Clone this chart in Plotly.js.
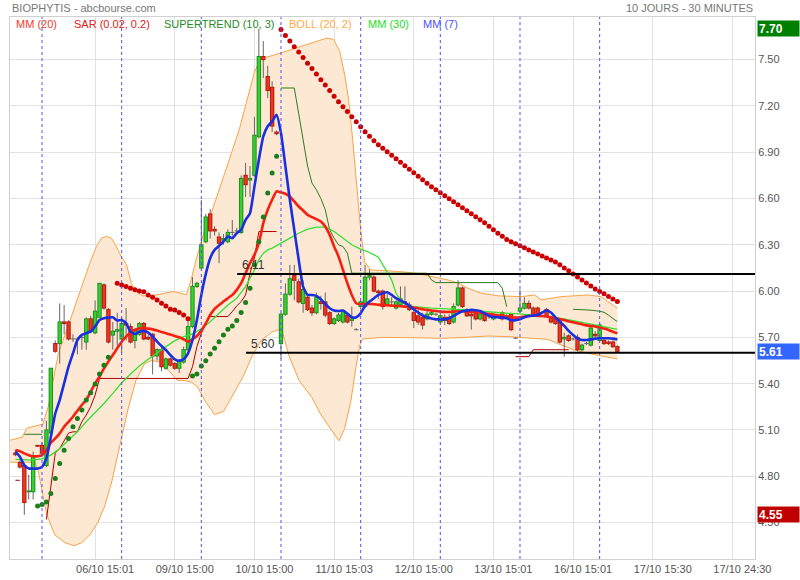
<!DOCTYPE html>
<html><head><meta charset="utf-8">
<script src="https://cdn.plot.ly/plotly-3.0.1.min.js"></script>
<style>body{margin:0;background:#fff}#chart{width:800px;height:580px}</style>
</head><body><div id="chart"></div>
<script>
// ---------- DATA (bar index: 18 half-hour bars per trading day) ----------
const firstBar = 12;
const opens = [4.95,4.89,4.87,4.70,4.70,5.00,
 5.00,4.87,5.08,5.66,5.66,5.80,5.80,5.69,5.69,5.70,5.67,5.82,5.73,5.83,6.04,5.88,5.715,5.74,
 5.69,5.79,5.77,5.68,5.72,5.79,5.70,5.72,5.58,5.62,5.50,5.56,5.53,5.50,5.54,5.62,5.77,6.03,
 6.15,6.32,6.50,6.40,6.35,6.33,6.32,6.38,6.39,6.38,6.75,6.72,6.75,7.00,7.52,7.39,7.32,7.03,
 5.66,5.85,5.98,6.10,6.06,5.92,5.96,5.89,5.86,5.93,5.93,5.86,5.79,5.81,5.80,5.845,5.81,5.75,
 5.90,5.90,6.09,6.09,6.00,6.00,5.91,5.93,5.89,5.91,5.93,5.91,5.86,5.84,5.83,5.82,5.85,5.85,
 5.80,5.83,5.83,5.80,5.91,6.02,5.88,5.85,5.86,5.82,5.85,5.84,5.82,5.84,5.86,5.83,5.85,5.695,
 5.87,5.89,5.92,5.89,5.89,5.86,5.88,5.83,5.82,5.80,5.69,5.71,5.69,5.70,5.62,5.66,5.65,5.72,
 5.68,5.68,5.67,5.67,5.64];
const highs = [4.97,4.90,4.88,4.81,4.96,5.00,
 5.02,5.16,5.50,5.68,5.92,5.91,5.81,5.72,5.70,5.72,5.83,5.84,5.94,6.05,6.05,5.89,5.80,5.86,
 5.83,5.89,5.79,5.76,5.80,5.80,5.72,5.73,5.63,5.65,5.57,5.57,5.54,5.56,5.64,5.82,6.09,6.06,
 6.59,6.50,6.53,6.42,6.38,6.37,6.40,6.46,6.41,6.75,6.83,6.81,7.13,7.70,7.62,7.46,7.36,7.04,
 5.86,6.05,6.17,6.17,6.08,6.07,5.97,5.91,5.99,5.97,5.99,5.87,5.83,5.86,5.88,5.86,5.90,5.76,
 5.94,6.17,6.14,6.11,6.01,6.01,5.98,5.96,5.94,6.03,6.03,5.93,5.88,5.88,5.86,5.87,5.88,5.86,
 5.86,5.85,5.85,5.92,6.07,6.03,5.89,5.88,5.88,5.87,5.86,5.86,5.85,5.85,5.87,5.85,5.86,5.70,
 6.01,5.96,5.94,5.90,5.90,5.87,5.89,5.84,5.83,5.82,5.73,5.72,5.70,5.72,5.66,5.67,5.77,5.74,
 5.79,5.69,5.68,5.68,5.65];
const lows = [4.93,4.85,4.55,4.65,4.65,4.99,
 4.94,4.86,5.07,5.60,5.53,5.72,5.68,5.67,5.59,5.62,5.62,5.73,5.72,5.83,5.88,5.66,5.62,5.62,
 5.60,5.68,5.66,5.63,5.71,5.68,5.68,5.46,5.55,5.48,5.49,5.51,5.49,5.47,5.53,5.61,5.76,6.02,
 6.14,6.31,6.34,6.36,6.18,6.30,6.31,6.36,6.37,6.37,6.61,6.61,6.74,6.99,7.38,7.25,7.03,7.01,
 5.56,5.84,5.97,5.94,5.92,5.86,5.87,5.84,5.85,5.88,5.83,5.78,5.78,5.80,5.79,5.79,5.77,5.745,
 5.88,5.89,6.07,5.99,5.95,5.88,5.90,5.90,5.88,5.90,5.90,5.87,5.76,5.78,5.75,5.81,5.84,5.84,
 5.79,5.78,5.78,5.79,5.90,5.89,5.83,5.75,5.81,5.81,5.80,5.82,5.81,5.83,5.81,5.82,5.74,5.69,
 5.86,5.88,5.88,5.84,5.84,5.85,5.83,5.79,5.78,5.66,5.575,5.67,5.68,5.61,5.61,5.65,5.64,5.70,
 5.67,5.65,5.65,5.63,5.60];
const closes = [4.94,4.86,4.63,4.705,4.93,4.995,
 4.95,5.10,5.50,5.61,5.80,5.79,5.69,5.69,5.69,5.70,5.82,5.74,5.87,6.05,5.89,5.67,5.74,5.75,
 5.79,5.78,5.67,5.75,5.79,5.69,5.69,5.58,5.62,5.51,5.56,5.52,5.50,5.55,5.62,5.77,6.03,6.05,
 6.30,6.48,6.39,6.39,6.31,6.34,6.38,6.38,6.39,6.73,6.69,6.73,7.01,7.52,7.50,7.30,7.07,7.02,
 5.85,5.98,6.08,6.07,5.93,6.01,5.88,5.86,5.96,5.92,5.845,5.79,5.82,5.845,5.87,5.80,5.82,5.75,
 5.93,6.09,6.10,6.00,5.99,5.90,5.95,5.93,5.93,5.95,5.92,5.88,5.81,5.80,5.78,5.85,5.86,5.85,
 5.84,5.81,5.79,5.90,6.02,5.90,5.84,5.84,5.82,5.85,5.81,5.84,5.84,5.84,5.82,5.84,5.75,5.695,
 5.89,5.92,5.89,5.85,5.85,5.86,5.84,5.80,5.79,5.67,5.70,5.68,5.69,5.62,5.65,5.66,5.76,5.71,
 5.78,5.66,5.66,5.64,5.61];

// MM (7) and MM (20), one value per bar from firstBar
const mm7 = [4.959,4.926,4.872,4.850,4.850,4.850,
 4.861,4.915,5.056,5.207,5.294,5.402,5.510,5.597,5.683,5.716,5.727,5.737,5.770,5.813,5.824,5.828,5.830,5.809,
 5.813,5.792,5.737,5.722,5.737,5.742,5.731,5.705,5.673,5.644,5.618,5.586,5.558,5.549,5.558,5.597,5.683,5.813,
 5.975,6.110,6.213,6.267,6.293,6.321,6.354,6.343,6.375,6.397,6.462,6.505,6.678,6.851,7.003,7.068,7.100,7.143,
 7.024,6.808,6.592,6.397,6.202,6.029,5.975,5.975,5.969,5.947,5.917,5.889,5.874,5.871,5.874,5.854,5.830,5.830,
 5.856,5.904,5.932,5.954,5.975,5.986,5.992,5.975,5.954,5.938,5.925,5.904,5.882,5.861,5.843,5.830,5.822,5.817,
 5.817,5.817,5.824,5.839,5.856,5.869,5.874,5.878,5.876,5.871,5.856,5.839,5.832,5.830,5.828,5.824,5.811,5.811,
 5.817,5.830,5.839,5.841,5.845,5.861,5.874,5.861,5.830,5.802,5.774,5.742,5.716,5.694,5.683,5.683,5.687,5.692,
 5.694,5.694,5.694,5.692,5.687];
const mm20 = [4.970,4.963,4.948,4.937,4.930,4.930,
 4.937,4.970,5.017,5.045,5.078,5.121,5.153,5.186,5.225,5.262,5.294,5.348,5.402,5.445,5.499,5.543,5.586,5.629,
 5.672,5.705,5.731,5.748,5.757,5.759,5.757,5.752,5.744,5.735,5.727,5.718,5.709,5.701,5.688,5.672,5.688,5.709,
 5.745,5.790,5.845,5.885,5.910,5.932,5.954,5.975,6.008,6.051,6.116,6.181,6.235,6.310,6.440,6.527,6.592,6.646,
 6.639,6.631,6.613,6.581,6.548,6.522,6.494,6.479,6.466,6.451,6.419,6.364,6.289,6.224,6.137,6.051,5.975,5.921,
 5.915,5.917,5.917,5.915,5.912,5.910,5.908,5.906,5.904,5.902,5.899,5.897,5.893,5.889,5.882,5.878,5.874,5.871,
 5.867,5.865,5.865,5.867,5.869,5.869,5.867,5.865,5.863,5.861,5.856,5.852,5.848,5.843,5.839,5.835,5.830,5.828,
 5.830,5.835,5.839,5.841,5.839,5.839,5.835,5.830,5.824,5.817,5.813,5.804,5.798,5.791,5.785,5.778,5.774,5.770,
 5.763,5.757,5.748,5.737,5.726];

// MM (30), read at selected bars
const mm30Bars = [12,14,16,18,20,22,24,26,28,30,32,34,36,38,40,42,44,46,48,50,52,54,56,58,60,62,64,66,67,68,69,70,71,72,74,76,78,80,82,84,86,88,90,92,94,96,97,98,99,100,102,106,110,114,118,122,126,130,134,138,142,146,148];
const mm30Vals = [4.909,4.905,4.905,4.913,4.937,4.980,5.034,5.088,5.153,5.212,5.272,5.337,5.406,5.463,5.514,5.558,5.601,5.640,5.679,5.705,5.722,5.755,5.802,5.856,5.910,5.954,6.029,6.137,6.202,6.246,6.267,6.278,6.293,6.310,6.343,6.375,6.401,6.414,6.414,6.386,6.343,6.300,6.272,6.250,6.220,6.127,6.073,5.986,5.943,5.917,5.899,5.889,5.884,5.878,5.869,5.858,5.852,5.843,5.830,5.809,5.787,5.765,5.752];

// BOLL (20, 2) bands, read at selected bar positions
const bollUpBars = [10.8,13.5,14.6,17.5,18.2,19.4,20.6,21.7,23.6,25.4,27.3,28.8,30.3,31.4,32.6,33.7,34.8,35.9,37.1,38.2,39.3,40.8,43.8,47.6,49.4,50.6,51.7,52.8,53.9,55.1,56.3,58,60.3,62.6,64.4,66,67.5,69.3,71.6,73.8,76,78.3,80.6,82.4,83.9,85.3,86.4,87.3,88.2,89.1,90,90.9,92.3,94.8,98.6,102.3,106.1,109.8,112.1,114.3,117.3,121.1,126.3,129.3,130.8,135.3,141.3,144.3,147.3,148];
const bollUpVals = [5.034,5.053,5.112,5.131,5.138,5.251,5.445,5.597,5.748,5.900,6.051,6.181,6.289,6.343,6.354,6.343,6.289,6.224,6.170,6.051,5.997,5.969,5.975,5.997,5.986,5.975,6.073,6.202,6.310,6.43,6.51,6.66,6.85,7.05,7.24,7.42,7.51,7.52,7.54,7.56,7.58,7.60,7.62,7.64,7.63,7.55,7.40,7.24,6.98,6.69,6.40,6.19,6.137,6.133,6.127,6.116,6.094,6.072,6.051,6.018,5.986,5.969,5.964,5.975,5.943,5.964,5.975,5.964,5.904,5.89];
const bollLoBars = [10.8,16.4,17.1,18,19.1,20.9,23.2,25.2,27,28.8,30.6,32.2,33.8,35.6,37.4,39.2,41.2,42.8,44.6,46.8,48.6,50.2,51.8,53.1,55,57,59,61,63.5,65.5,67.5,70,71.6,72.5,73.8,76.1,79,81,83.3,85.1,86.4,87.8,88.9,89.8,90.5,94.8,102.3,108.3,113.6,118.8,123.3,127.8,132.3,135.3,138.3,141.3,144.3,147.3,148];
const bollLoVals = [4.891,4.891,4.84,4.71,4.55,4.42,4.37,4.35,4.37,4.42,4.50,4.61,4.77,5.00,5.23,5.42,5.53,5.55,5.54,5.48,5.42,5.42,5.41,5.38,5.28,5.20,5.22,5.32,5.45,5.58,5.68,5.735,5.75,5.72,5.58,5.42,5.31,5.20,5.10,5.03,5.11,5.29,5.50,5.65,5.69,5.70,5.698,5.694,5.70,5.709,5.705,5.698,5.687,5.651,5.618,5.597,5.579,5.564,5.56];

// SAR (0.02, 0.2): runs of dots, each with first bar and values
const sarGreen1Start = 17;
const sarGreen1 = [4.608,4.617,4.634,4.688,4.786,4.883,4.969,5.045,5.121,5.175,5.229,5.294,5.342,5.398,5.463,5.519,5.571];
const sarRed1Start = 35;
const sarRed1 = [6.051,6.040,6.029,6.019,6.008,6.001,5.995,5.975,5.960,5.943,5.921,5.904,5.882,5.878,5.861,5.845,5.820];
const sarGreen2Start = 52;
const sarGreen2 = [5.450,5.463,5.515,5.549,5.592,5.629,5.672,5.716,5.752,5.774,5.809,5.861,5.926,6.019,6.170,6.320,6.480,6.635,6.765,6.873];
const sarRed2Start = 72;
const sarRed2 = [7.695,7.656,7.620,7.584,7.549,7.513,7.477,7.442,7.406,7.370,7.335,7.299,7.263,7.227,7.195,7.163,7.130,7.098,7.065,7.033,7.004,6.974,6.948,6.926,6.903,6.880,6.858,6.835,6.812,6.789,6.767,6.744,6.721,6.699,6.676,6.656,6.637,6.617,6.598,6.579,6.559,6.540,6.520,6.501,6.481,6.462,6.442,6.420,6.397,6.374,6.355,6.335,6.319,6.306,6.293,6.280,6.267,6.254,6.241,6.228,6.215,6.202,6.189,6.170,6.150,6.131,6.111,6.092,6.072,6.053,6.033,6.014,5.998,5.982,5.965,5.949,5.933];

// SUPERTREND (10, 3): runs, each with first bar and values
const stRed1Start = 12;
const stRed1 = [4.774,4.774];
const stGreen1Start = 14;
const stGreen1 = [5.072,5.072,5.072,5.072,5.072];
const stRed2Start = 19;
const stRed2 = [4.52,4.73,4.95,4.98,5.03,5.08,5.088,5.088,5.153,5.197,5.251,5.326,5.434,
 5.434,5.434,5.434,5.434,5.434,5.434,5.434,5.434,5.434,5.434,5.434,5.434,5.434,5.434,5.434,5.434,5.434,5.434,5.434,5.434,
 5.51,5.64,5.727,5.79,5.835,5.835,5.835,5.835,5.835,5.867,5.904,5.932,5.975,6.116,6.213,6.386,6.386,6.386,6.386,6.386];
const stGreen2Start = 72;
const stGreen2 = [7.316,7.316,7.316,7.316,7.15,6.99,6.81,6.70,6.656,6.60,6.527,6.397,6.343,6.30,6.289,6.246,6.116,
 6.116,6.116,6.116,6.116,6.116,6.116,6.116,6.116,6.116,6.116,6.116,6.116,6.116,6.116,6.116,6.116,6.116,
 6.072,6.055,6.055,6.055,6.055,6.055,6.055,6.055,6.055,6.055,6.055,6.055,6.055,6.055,6.055,6.055,6.018,5.899];
const stRed3Start = 125;
const stRed3 = [5.575,5.575,5.575,5.575,5.62,5.62,5.62,5.62,5.62,5.62,5.62,5.62,5.62];
const stGreen3Start = 138;
const stGreen3 = [5.882,5.882,5.880,5.878,5.876,5.874,5.870,5.862,5.845,5.822,5.802];

// Drawn support / resistance levels
const levelValues = [6.11, 5.60];
const levelLabels = ["6.11", "5.60"];
const levelStartBar = [62.1, 64.1];

// Axis ticks
const dayStartBars = [18,36,54,72,90,108,126,144];
const tickBars = [30,48,66,84,102,120,138,156,174];
const tickLabels = ["06/10 15:01","09/10 15:00","10/10 15:00","11/10 15:03","12/10 15:00","13/10 15:01","16/10 15:01","17/10 15:30","17/10 24:30"];
const priceTicks = [4.5,4.8,5.1,5.4,5.7,6.0,6.3,6.6,6.9,7.2,7.5];
const priceTickText = ["4.50","4.80","5.10","5.40","5.70","6.00","6.30","6.60","6.90","7.20","7.50"];

// ---------- BUILD ----------
const xMin = 10.77, xMax = 179.1;
const FONT = "Liberation Sans, Arial, sans-serif";
const xs = opens.map((_, i) => firstBar + i);
const run = (start, vals) => vals.map((_, i) => start + i);
const PX = (7.776 - 4.264) / 542; // price per pixel

const wickX = [], wickY = [];
xs.forEach((x, i) => { wickX.push(x, x, null); wickY.push(lows[i], highs[i], null); });

function bodySegments(test, pad) {
  const bx = [], by = [];
  xs.forEach((x, i) => {
    if (!test(opens[i], closes[i])) return;
    const lo = Math.min(opens[i], closes[i]), hi = Math.max(opens[i], closes[i]);
    bx.push(x, x, null); by.push(lo - pad, hi + pad, null);
  });
  return {bx, by};
}
const up = (o, c) => c > o, dn = (o, c) => c < o, flat = (o, c) => c === o;

const traces = [];
// Bollinger fill + edges
traces.push({type:"scatter", mode:"lines", x: bollUpBars.concat(bollLoBars.slice().reverse()),
  y: bollUpVals.concat(bollLoVals.slice().reverse()), fill:"toself", fillcolor:"#fde9d3",
  line:{width:0, color:"rgba(0,0,0,0)"}, hoverinfo:"skip"});
traces.push({type:"scatter", mode:"lines", x: bollUpBars, y: bollUpVals, line:{color:"#f7a347", width:1}});
traces.push({type:"scatter", mode:"lines", x: bollLoBars, y: bollLoVals, line:{color:"#f7a347", width:1}});
// Candles: wicks, then bodies (outline + fill)
traces.push({type:"scatter", mode:"lines", x: wickX, y: wickY, line:{color:"#666666", width:1}});
[[up, "#1f8f1f", "#38d030"], [dn, "#b01e10", "#ee3520"]].forEach(([t, edge, fillc]) => {
  const o = bodySegments(t, 0.55 * PX), f = bodySegments(t, -0.45 * PX);
  traces.push({type:"scatter", mode:"lines", x:o.bx, y:o.by, line:{color:edge, width:4.4}});
  traces.push({type:"scatter", mode:"lines", x:f.bx, y:f.by, line:{color:fillc, width:2.4}});
});
const fl = bodySegments(flat, 0.5 * PX);
traces.push({type:"scatter", mode:"lines", x:fl.bx, y:fl.by, line:{color:"#666666", width:4.4}});
// SuperTrend
[[stRed1Start, stRed1, "#b00000"], [stGreen1Start, stGreen1, "#2a7d1e"], [stRed2Start, stRed2, "#b00000"],
 [stGreen2Start, stGreen2, "#2a7d1e"], [stRed3Start, stRed3, "#b00000"], [stGreen3Start, stGreen3, "#2a7d1e"]]
 .forEach(([s, v, c]) => traces.push({type:"scatter", mode:"lines", x: run(s, v), y: v, line:{color:c, width:1}}));
// Moving averages
traces.push({type:"scatter", mode:"lines", x: mm30Bars, y: mm30Vals, line:{color:"#33e033", width:1.3}});
traces.push({type:"scatter", mode:"lines", x: xs, y: mm20, line:{color:"#f5200f", width:2.6, shape:"spline", smoothing:0.5}});
traces.push({type:"scatter", mode:"lines", x: xs, y: mm7, line:{color:"#1a2fe0", width:2.6, shape:"spline", smoothing:0.5}});
// SAR
[[sarGreen1Start, sarGreen1, "#1a7f1a"], [sarRed1Start, sarRed1, "#cc0000"],
 [sarGreen2Start, sarGreen2, "#1a7f1a"], [sarRed2Start, sarRed2, "#cc0000"]]
 .forEach(([s, v, c]) => traces.push({type:"scatter", mode:"markers", x: run(s, v), y: v,
   marker:{color:c, size:5}}));

const shapes = [];
dayStartBars.forEach(b => shapes.push({type:"line", xref:"x", yref:"paper", x0:b, x1:b, y0:0, y1:1,
  line:{color:"#4a55ff", width:1, dash:"dot"}, layer:"above"}));
levelValues.forEach((v, i) => shapes.push({type:"line", xref:"x", yref:"y", x0:levelStartBar[i], x1:xMax, y0:v, y1:v,
  line:{color:"#000000", width:2}, layer:"above"}));

const maxHigh = Math.max(...highs), minLow = Math.min(...lows), lastClose = closes[closes.length - 1];
const W = 745, H = 542; // plot area size in px
const px = p => (p - 10) / W;
const annotations = [
  {text:"BIOPHYTIS - abcbourse.com", xref:"paper", yref:"paper", x:0, y:1 + 9 / H, xanchor:"left", yanchor:"middle",
   showarrow:false, font:{family:FONT, size:11, color:"#777777"}},
  {text:"10 JOURS - 30 MINUTES", xref:"paper", yref:"paper", x:1, y:1 + 9 / H, xanchor:"right", yanchor:"middle",
   showarrow:false, font:{family:FONT, size:11, color:"#777777"}},
];
const legendItems = [["MM (20)", "#f03a2a", 14], ["SAR (0.02, 0.2)", "#e02020", 72], ["SUPERTREND (10, 3)", "#2a8a2a", 162],
  ["BOLL (20, 2)", "#ffaa44", 287], ["MM (30)", "#22dd22", 366], ["MM (7)", "#5050ff", 421]];
legendItems.forEach(([t, c, p]) => annotations.push({text:t, xref:"paper", yref:"paper", x:px(p), y:1 - 7 / H,
  xanchor:"left", yanchor:"middle", showarrow:false, font:{family:FONT, size:11, color:c}}));
levelValues.forEach((v, i) => annotations.push({text:levelLabels[i], xref:"x", yref:"y", x:levelStartBar[i] + 0.6, y:v,
  xanchor:"left", yanchor:"bottom", yshift:0, showarrow:false, font:{family:FONT, size:12, color:"#333333"}}));
[[maxHigh, "#008000"], [lastClose, "#3366ff"], [minLow, "#c00000"]].forEach(([v, c]) => annotations.push({
  text:"<b>" + v.toFixed(2) + "</b>", xref:"paper", yref:"y", x:1, y:v, xanchor:"left", yanchor:"middle", xshift:2,
  showarrow:false, bgcolor:c, width:39, height:13, align:"left", borderpad:1,
  font:{family:FONT, size:12, color:"#ffffff"}}));

const layout = {
  width:800, height:580, margin:{l:10, r:45, t:17, b:21}, paper_bgcolor:"#ffffff", plot_bgcolor:"#ffffff",
  showlegend:false, hovermode:false,
  xaxis:{range:[xMin, xMax], tickmode:"array", tickvals:tickBars, ticktext:tickLabels, ticklabelshift:10,
    showgrid:true, gridcolor:"#e2e2e2", gridwidth:1, zeroline:false, showline:true, mirror:true, linecolor:"#d0d0d0",
    ticks:"", tickfont:{family:FONT, size:11, color:"#555555"}},
  yaxis:{range:[4.264, 7.776], side:"right", tickmode:"array", tickvals:priceTicks, ticktext:priceTickText,
    showgrid:true, gridcolor:"#e2e2e2", gridwidth:1, zeroline:false, showline:true, mirror:true, linecolor:"#d0d0d0",
    ticks:"", tickfont:{family:FONT, size:11, color:"#555555"}},
  shapes:shapes, annotations:annotations
};
Plotly.newPlot("chart", traces, layout, {staticPlot:true, displayModeBar:false});
</script></body></html>
